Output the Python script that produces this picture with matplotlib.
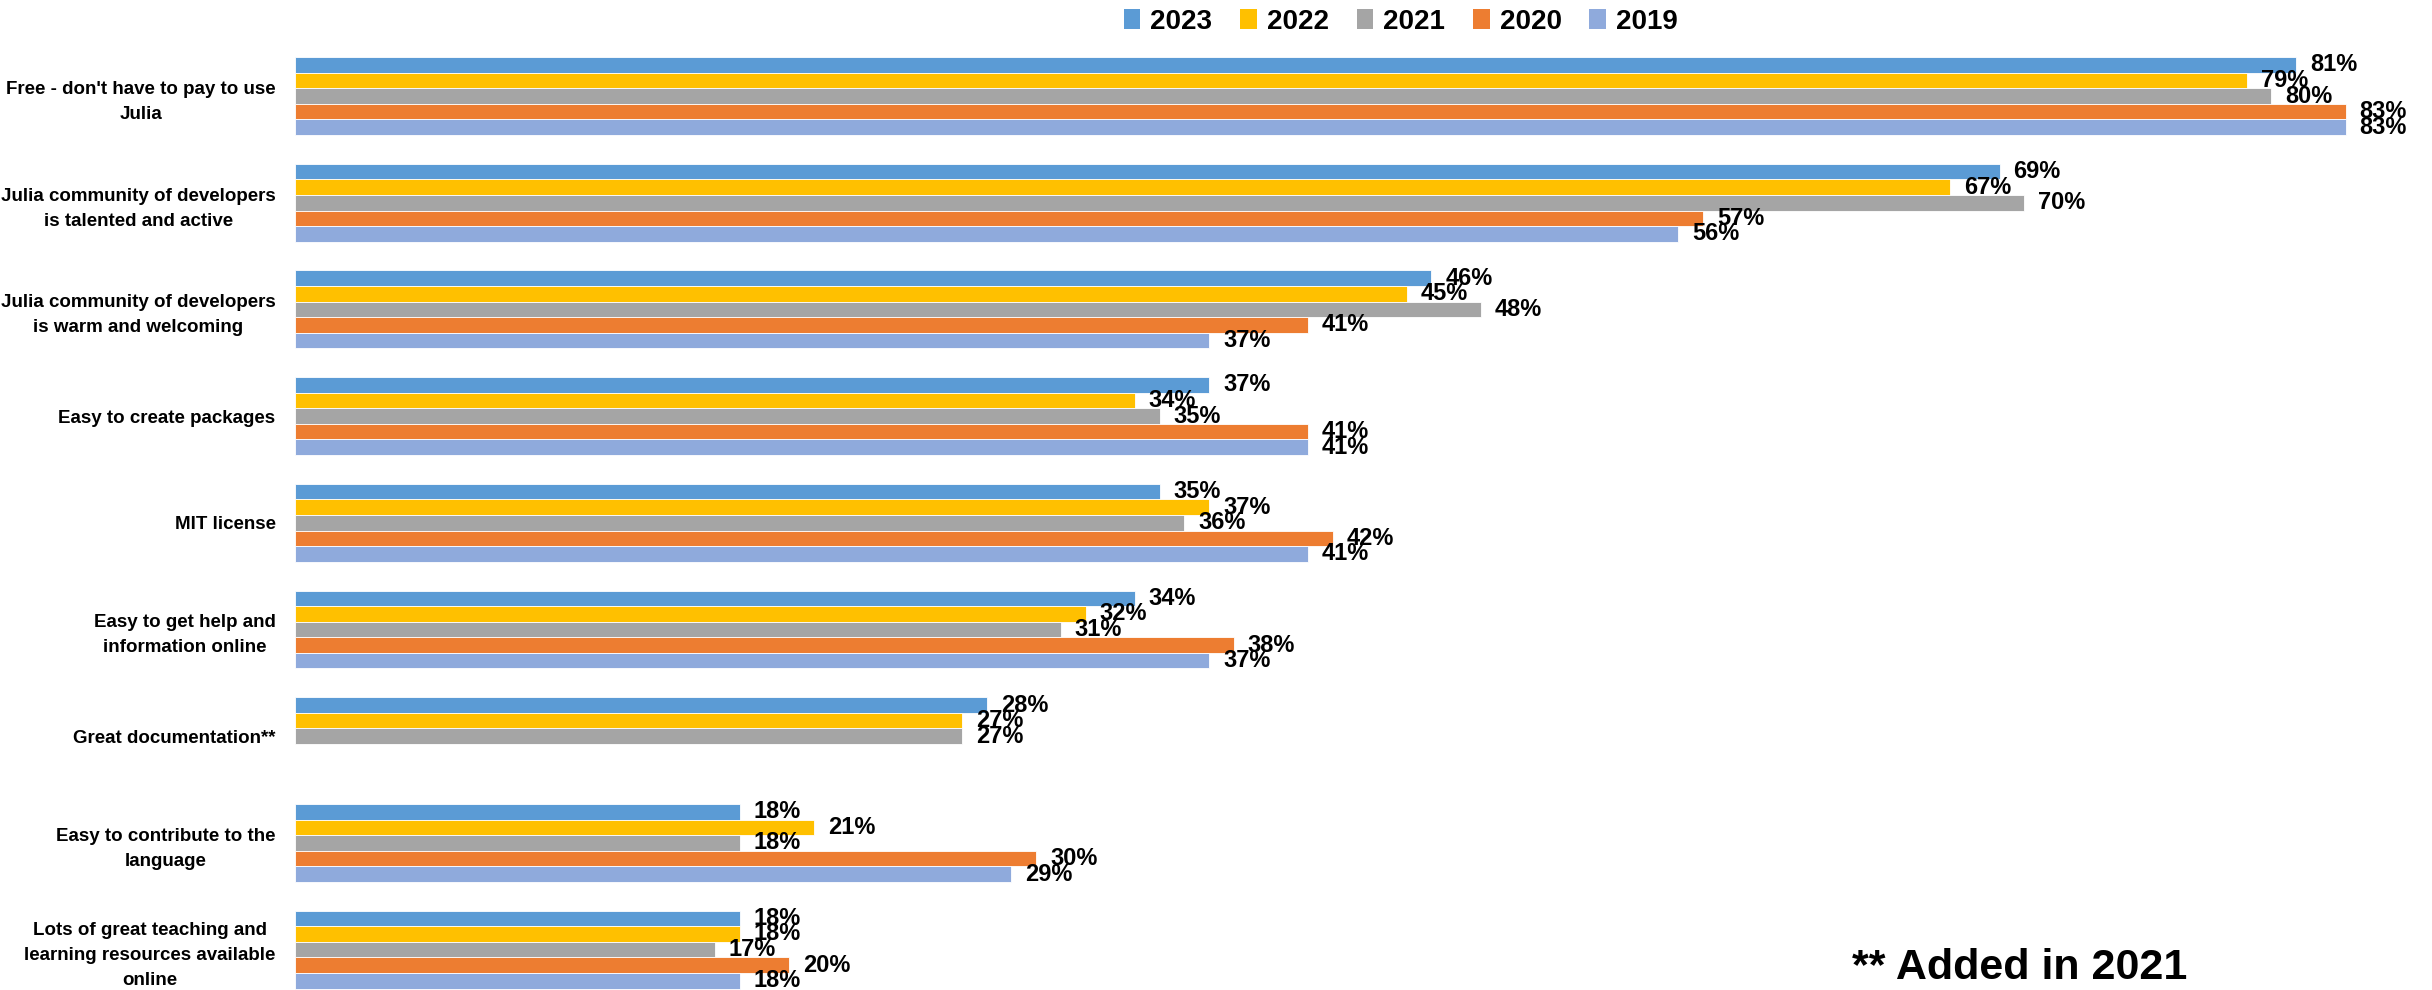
import numpy as np
import matplotlib
matplotlib.use("Agg")
import matplotlib.pyplot as plt
from matplotlib.patches import Patch

plt.rcParams['font.family'] = ['Liberation Sans', 'DejaVu Sans']

categories = [
    "Free - don't have to pay to use\nJulia",
    "Julia community of developers\nis talented and active",
    "Julia community of developers\nis warm and welcoming",
    "Easy to create packages",
    "MIT license",
    "Easy to get help and\ninformation online",
    "Great documentation**",
    "Easy to contribute to the\nlanguage",
    "Lots of great teaching and\nlearning resources available\nonline",
]
years = ["2023", "2022", "2021", "2020", "2019"]
v2023 = [81, 69, 46, 37, 35, 34, 28, 18, 18]
v2022 = [79, 67, 45, 34, 37, 32, 27, 21, 18]
v2021 = [80, 70, 48, 35, 36, 31, 27, 18, 17]
v2020 = [83, 57, 41, 41, 42, 38, np.nan, 30, 20]
v2019 = [83, 56, 37, 41, 41, 37, np.nan, 29, 18]
series = [v2023, v2022, v2021, v2020, v2019]
colors = ["#5B9BD5", "#FFC000", "#A5A5A5", "#ED7D31", "#8FAADC"]

fig = plt.figure(figsize=(24.32, 9.9), dpi=100)
ax = fig.add_axes([295 / 2432, 0.0, 1 - 295 / 2432, 1.0])

h = 0.146
y = np.arange(len(categories))
for j, (vals, col, yr) in enumerate(zip(series, colors, years)):
    vals = np.array(vals, dtype=float)
    mask = ~np.isnan(vals)
    bars = ax.barh(y[mask] + (j - 2) * h, vals[mask], height=h, color=col,
                   edgecolor='white', linewidth=0.6, label=yr)
    ax.bar_label(bars, labels=[f"{int(v)}%" for v in vals[mask]],
                 padding=10, fontsize=17, fontweight='bold', color='black')

ax.set_xlim(0, 86.5)
ax.set_ylim(8.379, -0.9)
ax.set_yticks(y)
ax.set_yticklabels(categories, fontsize=13.5, fontweight='bold',
                   multialignment='center', linespacing=1.6)
ax.tick_params(axis='y', length=0, pad=14)
ax.set_xticks([])
for s in ax.spines.values():
    s.set_visible(False)

handles = [Patch(facecolor=c, edgecolor='none', label=yr) for c, yr in zip(colors, years)]
fig.legend(handles=handles, loc='center', bbox_to_anchor=(0.576, 0.978), ncol=5,
           frameon=False, prop={'size': 20, 'weight': 'bold'},
           handlelength=0.6, handleheight=0.7, handletextpad=0.36,
           columnspacing=1.0)

fig.text(1852 / 2432, 0.002, "** Added in 2021", fontsize=31, fontweight='bold',
         ha='left', va='bottom')

fig.savefig("out.png", dpi=100)
